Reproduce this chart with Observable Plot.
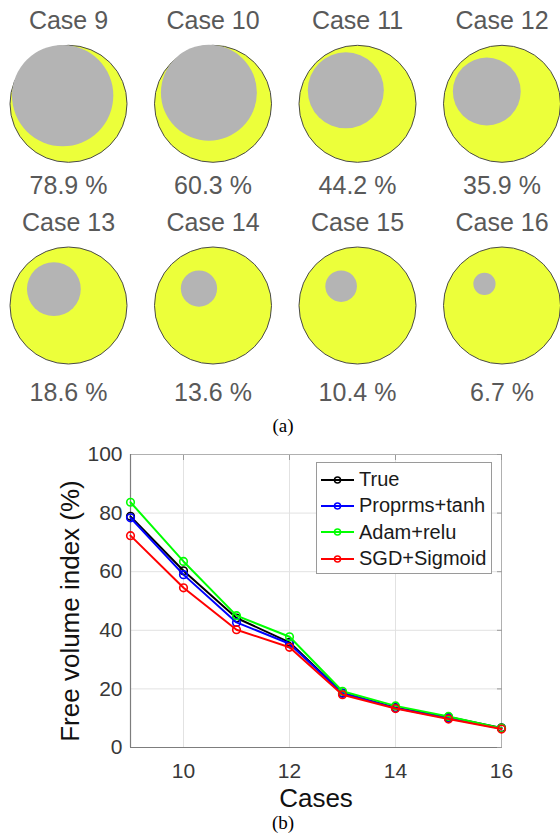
<!DOCTYPE html>
<html><head><meta charset="utf-8">
<script src="https://cdn.jsdelivr.net/npm/d3@7"></script>
<script src="https://cdn.jsdelivr.net/npm/@observablehq/plot@0.6"></script>
<style>
body{margin:0;background:#fff;}
#wrap{position:relative;width:560px;height:837px;overflow:hidden;font-family:"Liberation Sans",Arial,sans-serif;}
.blk{position:absolute;left:0;}
.cap{position:absolute;left:0;width:566px;text-align:center;font-family:"Liberation Serif","Times New Roman",serif;font-size:19px;line-height:22px;color:#000;}
#legend{position:absolute;left:316px;top:462px;width:174px;height:110px;border:1px solid #9a9a9a;background:#fff;}
.li{position:absolute;left:3px;height:24px;display:flex;align-items:center;font-size:20px;color:#1a1a1a;white-space:nowrap;}
.li svg{margin-right:5px;}
</style></head><body><div id="wrap"></div>
<script>
// ---- data ----
const cases = [9, 10, 11, 12, 13, 14, 15, 16];
const freeVolume = [78.9, 60.3, 44.2, 35.9, 18.6, 13.6, 10.4, 6.7];
// pore (grey) radius and centre offset, in units of the outer radius
const poreRadius = [0.866, 0.82, 0.65, 0.58, 0.46, 0.31, 0.27, 0.19];
const poreDx = [-0.10, -0.07, -0.20, -0.26, -0.25, -0.24, -0.28, -0.30];
const poreDy = [-0.14, -0.19, -0.23, -0.21, -0.28, -0.29, -0.33, -0.37];

const caseTicks = [10, 12, 14, 16];
const yTicks = [0, 20, 40, 60, 80, 100];
const seriesNames = ["True", "Proprms+tanh", "Adam+relu", "SGD+Sigmoid"];
const seriesColors = ["#000000", "#0000ff", "#00ff00", "#ff0000"];
const trueVals = [78.9, 60.3, 44.2, 35.9, 18.6, 13.6, 10.4, 6.7];
const proprmsVals = [78.4, 59.0, 42.7, 35.4, 18.5, 13.5, 10.0, 6.5];
const adamVals = [83.7, 63.5, 45.0, 37.8, 19.2, 14.2, 10.6, 6.6];
const sgdVals = [72.3, 54.5, 40.2, 34.2, 18.0, 13.3, 9.7, 6.3];

const wrap = document.getElementById("wrap");
const font = "Liberation Sans, Arial, sans-serif";

// ---- (a) circles ----
const R = 58.5;               // outer radius in px
const colStep = 144.5 / R;    // grid spacing in radius units
const rowStep = 201.7 / R;
const cells = cases.map((c, i) => ({
  case: c, pct: freeVolume[i], row: Math.floor(i / 4),
  cx: (i % 4) * colStep, cy: Math.floor(i / 4) * rowStep,
  pr: poreRadius[i], px: (i % 4) * colStep + poreDx[i], py: Math.floor(i / 4) * rowStep + poreDy[i]
}));
const H1 = 412;
const circles = Plot.plot({
  width: 560, height: H1, margin: 0,
  x: {domain: [-68 / R, (560 - 68) / R], range: [0, 560], axis: null},
  y: {domain: [-103.3 / R, (H1 - 103.3) / R], range: [0, H1], axis: null},
  r: {type: "linear", domain: [0, 1], range: [0, R]},
  style: {fontFamily: font, background: "transparent"},
  marks: [
    Plot.dot(cells, {x: "cx", y: "cy", r: () => 1, fill: "#ecff3a", stroke: "#4a4a4a", strokeWidth: 1}),
    Plot.dot(cells, {x: "px", y: "py", r: "pr", fill: "#b4b4b4", stroke: "none"}),
    Plot.text(cells, {filter: d => d.row === 0, x: "cx", y: "cy", text: d => "Case " + d.case, dy: -83, fontSize: 25, fill: "#595959"}),
    Plot.text(cells, {filter: d => d.row === 1, x: "cx", y: "cy", text: d => "Case " + d.case, dy: -83, fontSize: 25, fill: "#595959"}),
    Plot.text(cells, {filter: d => d.row === 0, x: "cx", y: "cy", text: d => d.pct.toFixed(1) + " %", dy: 82, fontSize: 25, fill: "#595959"}),
    Plot.text(cells, {filter: d => d.row === 1, x: "cx", y: "cy", text: d => d.pct.toFixed(1) + " %", dy: 87, fontSize: 25, fill: "#595959"})
  ]
});
circles.classList.add("blk");
circles.style.top = "0px";
wrap.appendChild(circles);

const capA = document.createElement("div");
capA.className = "cap"; capA.style.top = "415px"; capA.textContent = "(a)";
wrap.appendChild(capA);

// ---- (b) line chart ----
const allVals = [trueVals, proprmsVals, adamVals, sgdVals];
const lineData = [];
allVals.forEach((vals, s) => vals.forEach((v, i) => lineData.push({series: seriesNames[s], case: cases[i], value: v})));

const seriesMarks = seriesNames.flatMap(name => [
  Plot.line(lineData, {filter: d => d.series === name, x: "case", y: "value", stroke: "series", strokeWidth: 2}),
  Plot.dot(lineData, {filter: d => d.series === name, x: "case", y: "value", stroke: "series", r: 3.8, strokeWidth: 1.6, fill: "none"})
]);

const chart = Plot.plot({
  width: 560, height: 372, marginTop: 14, marginBottom: 65, marginLeft: 130, marginRight: 59,
  x: {domain: [cases[0], cases[cases.length - 1]]},
  y: {domain: [yTicks[0], yTicks[yTicks.length - 1]]},
  color: {domain: seriesNames, range: seriesColors},
  style: {fontFamily: font, background: "transparent"},
  marks: [
    Plot.gridX(caseTicks, {stroke: "#e2e2e2", strokeOpacity: 1}),
    Plot.gridY(yTicks, {stroke: "#e2e2e2", strokeOpacity: 1}),
    Plot.frame({stroke: "#b0b0b0"}),
    Plot.ruleX([cases[0]], {stroke: "#7d7d7d", strokeWidth: 1.2}),
    Plot.ruleY([yTicks[0]], {stroke: "#7d7d7d", strokeWidth: 1.2}),
    Plot.axisY(yTicks, {anchor: "right", tickSize: -5, tickFormat: () => "", stroke: "#9a9a9a", label: null}),
    Plot.axisX(caseTicks, {anchor: "top", tickSize: -5, tickFormat: () => "", stroke: "#9a9a9a", label: null}),
    Plot.axisX(caseTicks, {tickSize: 0, tickPadding: 16, fontSize: 21, fill: "#383838", label: null}),
    Plot.axisY(yTicks, {tickSize: 0, tickPadding: 8, fontSize: 21, fill: "#383838", label: null}),
    ...seriesMarks,
    Plot.text(["Cases"], {text: d => d, frameAnchor: "bottom", textAnchor: "middle", lineAnchor: "middle", dy: 51, fontSize: 26, fill: "#111"}),
    Plot.text(["Free volume index (%)"], {text: d => d, frameAnchor: "left", textAnchor: "middle", lineAnchor: "middle", dx: -60, dy: 10, rotate: -90, fontSize: 26, fill: "#111"})
  ]
});
chart.classList.add("blk");
chart.style.top = "440px";
wrap.appendChild(chart);

// legend
const legend = document.createElement("div");
legend.id = "legend";
seriesNames.forEach((name, i) => {
  const row = document.createElement("div");
  row.className = "li";
  row.style.top = (4.6 + i * 26.3) + "px";
  const c = seriesColors[i];
  row.innerHTML = `<svg width="34" height="12"><line x1="1" y1="6" x2="34" y2="6" stroke="${c}" stroke-width="2"/><circle cx="17.5" cy="6" r="3" fill="none" stroke="${c}" stroke-width="1.5"/></svg><span>${name}</span>`;
  legend.appendChild(row);
});
wrap.appendChild(legend);

const capB = document.createElement("div");
capB.className = "cap"; capB.style.top = "812px"; capB.textContent = "(b)";
wrap.appendChild(capB);
</script></body></html>
